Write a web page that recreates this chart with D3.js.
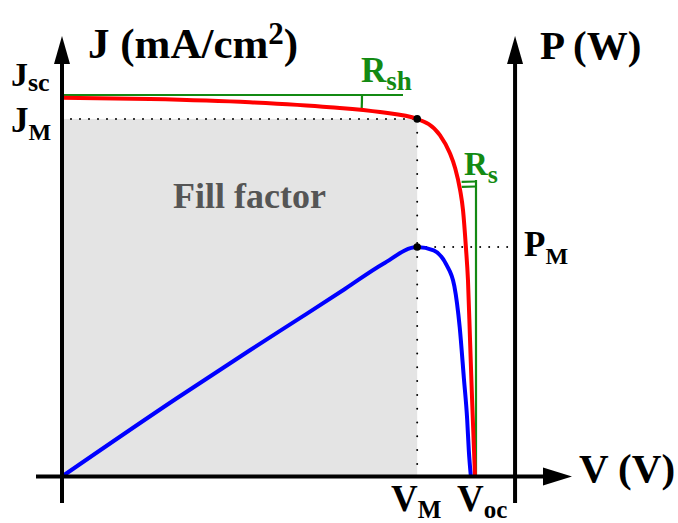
<!DOCTYPE html>
<html>
<head>
<meta charset="utf-8">
<script src="https://cdn.jsdelivr.net/npm/d3@7"></script>
<style>
  body { margin: 0; background: #fff; }
  text { font-family: "Liberation Serif", "Times New Roman", serif; font-weight: bold; }
</style>
</head>
<body>
<svg id="chart" width="678" height="523"></svg>
<script>
// Data (normalised units: V in units of Voc, J in units of Jsc, P in units of PM)
const jvVoltage = [0, 0.213, 0.455, 0.649, 0.770, 0.860, 0.915, 0.939, 0.952, 0.964, 0.971, 0.978, 0.983, 0.988, 0.993, 1.0];
const jvCurrent = [1.0, 0.9966, 0.988, 0.975, 0.962, 0.944, 0.901, 0.854, 0.814, 0.756, 0.703, 0.605, 0.518, 0.360, 0.201, 0];
const pvVoltage = [0, 0.278, 0.455, 0.576, 0.685, 0.777, 0.860, 0.900, 0.930, 0.950, 0.963, 0.973, 0.981, 0.985, 0.990];
const pvPower = [0, 0.341, 0.550, 0.690, 0.817, 0.926, 1.0, 0.985, 0.925, 0.830, 0.650, 0.430, 0.250, 0.114, 0];
const vMax = 0.860;   // V_M
const jMax = 0.944;   // J_M
const pMax = 1.0;     // P_M
const voc = 1.0;
const jsc = 1.0;
const pAxisV = 1.097; // where the power axis stands

const svg = d3.select("#chart");

const x = d3.scaleLinear().domain([0, voc]).range([62, 475]);
const yJ = d3.scaleLinear().domain([0, jsc]).range([476.5, 97.7]);
const yP = d3.scaleLinear().domain([0, pMax]).range([476.5, 247]);

const x0 = x(0), y0 = yJ(0), xR = x(pAxisV);

// Fill factor rectangle
svg.append("rect")
    .attr("x", x0)
    .attr("y", yJ(jMax))
    .attr("width", x(vMax) - x0)
    .attr("height", y0 - yJ(jMax))
    .attr("fill", "#e4e4e4");

svg.append("text")
    .attr("x", (x0 + x(vMax)) / 2 + 10)
    .attr("y", 208)
    .attr("text-anchor", "middle")
    .attr("font-size", 36)
    .attr("fill", "#555")
    .text("Fill factor");

// Dotted guides
const dotted = svg.append("g").attr("stroke", "#000").attr("stroke-width", 2).attr("stroke-linecap", "round");
dotted.append("line")
    .attr("x1", x0).attr("x2", x(vMax))
    .attr("y1", yJ(jMax)).attr("y2", yJ(jMax))
    .attr("stroke-dasharray", "0 9");
dotted.append("line")
    .attr("x1", x(vMax)).attr("x2", x(vMax))
    .attr("y1", yJ(jMax)).attr("y2", y0)
    .attr("stroke-dasharray", "0 13.8");
dotted.append("line")
    .attr("x1", x(vMax)).attr("x2", xR)
    .attr("y1", yP(pMax)).attr("y2", yP(pMax))
    .attr("stroke-dasharray", "0 9");

// Green tangents (Rsh, Rs)
const green = "#138a13";
const jv = jvVoltage.map((v, i) => [v, jvCurrent[i]]);
const pv = pvVoltage.map((v, i) => [v, pvPower[i]]);

const gTan = svg.append("g").attr("stroke", green).attr("fill", "none").attr("stroke-width", 2.2);
gTan.append("line")
    .attr("x1", x0).attr("x2", 403)
    .attr("y1", yJ(jsc) - 2.7).attr("y2", yJ(jsc) - 2.7);
gTan.append("line")
    .attr("x1", x(voc) + 1).attr("x2", x(voc) + 1)
    .attr("y1", 180).attr("y2", y0);

// angle arcs
const arcRsh = d3.path();
{
    const cx = x0, cy = yJ(jsc) - 2.7, r = 300;
    arcRsh.arc(cx, cy, r, 0, Math.atan2(13, 300), false);
}
gTan.append("path").attr("d", arcRsh.toString());

[290, 295].forEach(r => {
    const p = d3.path();
    const cx = x(voc) + 1, cy = y0;
    const a0 = -Math.PI / 2, a1 = -Math.PI / 2 - Math.atan2(14, 286);
    p.arc(cx, cy, r, a0, a1, true);
    gTan.append("path").attr("d", p.toString());
});

// Curves
const lineJ = d3.line().x(d => x(d[0])).y(d => yJ(d[1])).curve(d3.curveMonotoneX);
const lineP = d3.line().x(d => x(d[0])).y(d => yP(d[1])).curve(d3.curveMonotoneX);

svg.append("path")
    .attr("d", lineP(pv))
    .attr("fill", "none")
    .attr("stroke", "#0000ff")
    .attr("stroke-width", 4);

svg.append("path")
    .attr("d", lineJ(jv))
    .attr("fill", "none")
    .attr("stroke", "#ff0000")
    .attr("stroke-width", 4);

// Max power points
svg.append("circle").attr("cx", x(vMax)).attr("cy", yJ(jMax)).attr("r", 3.8).attr("fill", "#000");
svg.append("circle").attr("cx", x(vMax)).attr("cy", yP(pMax)).attr("r", 3.8).attr("fill", "#000");

// Axes
const axes = svg.append("g");
axes.append("line").attr("x1", 36).attr("x2", 550).attr("y1", y0).attr("y2", y0)
    .attr("stroke", "#000").attr("stroke-width", 4);
[x0, xR].forEach(ax => {
    axes.append("line").attr("x1", ax).attr("x2", ax).attr("y1", 503).attr("y2", 55)
        .attr("stroke", "#000").attr("stroke-width", 4);
    axes.append("path")
        .attr("d", `M${ax},36 L${ax + 8},64 L${ax - 8},64 Z`)
        .attr("fill", "#000");
});
axes.append("path")
    .attr("d", `M572,${y0} L543,${y0 - 9} L543,${y0 + 9} Z`)
    .attr("fill", "#000");

// Labels
const label = (xp, yp, main, sub, size, subSize, color, dy) => {
    const t = svg.append("text")
        .attr("x", xp).attr("y", yp)
        .attr("font-size", size)
        .attr("fill", color || "#000");
    t.append("tspan").text(main);
    if (sub) t.append("tspan").attr("font-size", subSize).attr("dy", dy).text(sub);
    return t;
};

const jTitle = svg.append("text").attr("x", 88).attr("y", 58).attr("font-size", 43);
jTitle.append("tspan").text("J (mA/cm");
jTitle.append("tspan").attr("font-size", 31).attr("dy", -14).text("2");
jTitle.append("tspan").attr("dy", 14).text(")");

svg.append("text").attr("x", 540).attr("y", 59).attr("font-size", 41).text("P (W)");
svg.append("text").attr("x", 579).attr("y", 482).attr("font-size", 41).text("V (V)");

label(11, 86, "J", "sc", 34, 26, null, 5);
label(11, 132, "J", "M", 35, 24, null, 8);
label(524, 256, "P", "M", 35, 24, null, 8);
label(391, 511, "V", "M", 37, 25, null, 7);
label(457, 511, "V", "oc", 37, 25, null, 7);
label(361, 82, "R", "sh", 35, 27, green, 8);
label(464, 175, "R", "s", 33, 26, green, 8);
</script>
</body>
</html>
